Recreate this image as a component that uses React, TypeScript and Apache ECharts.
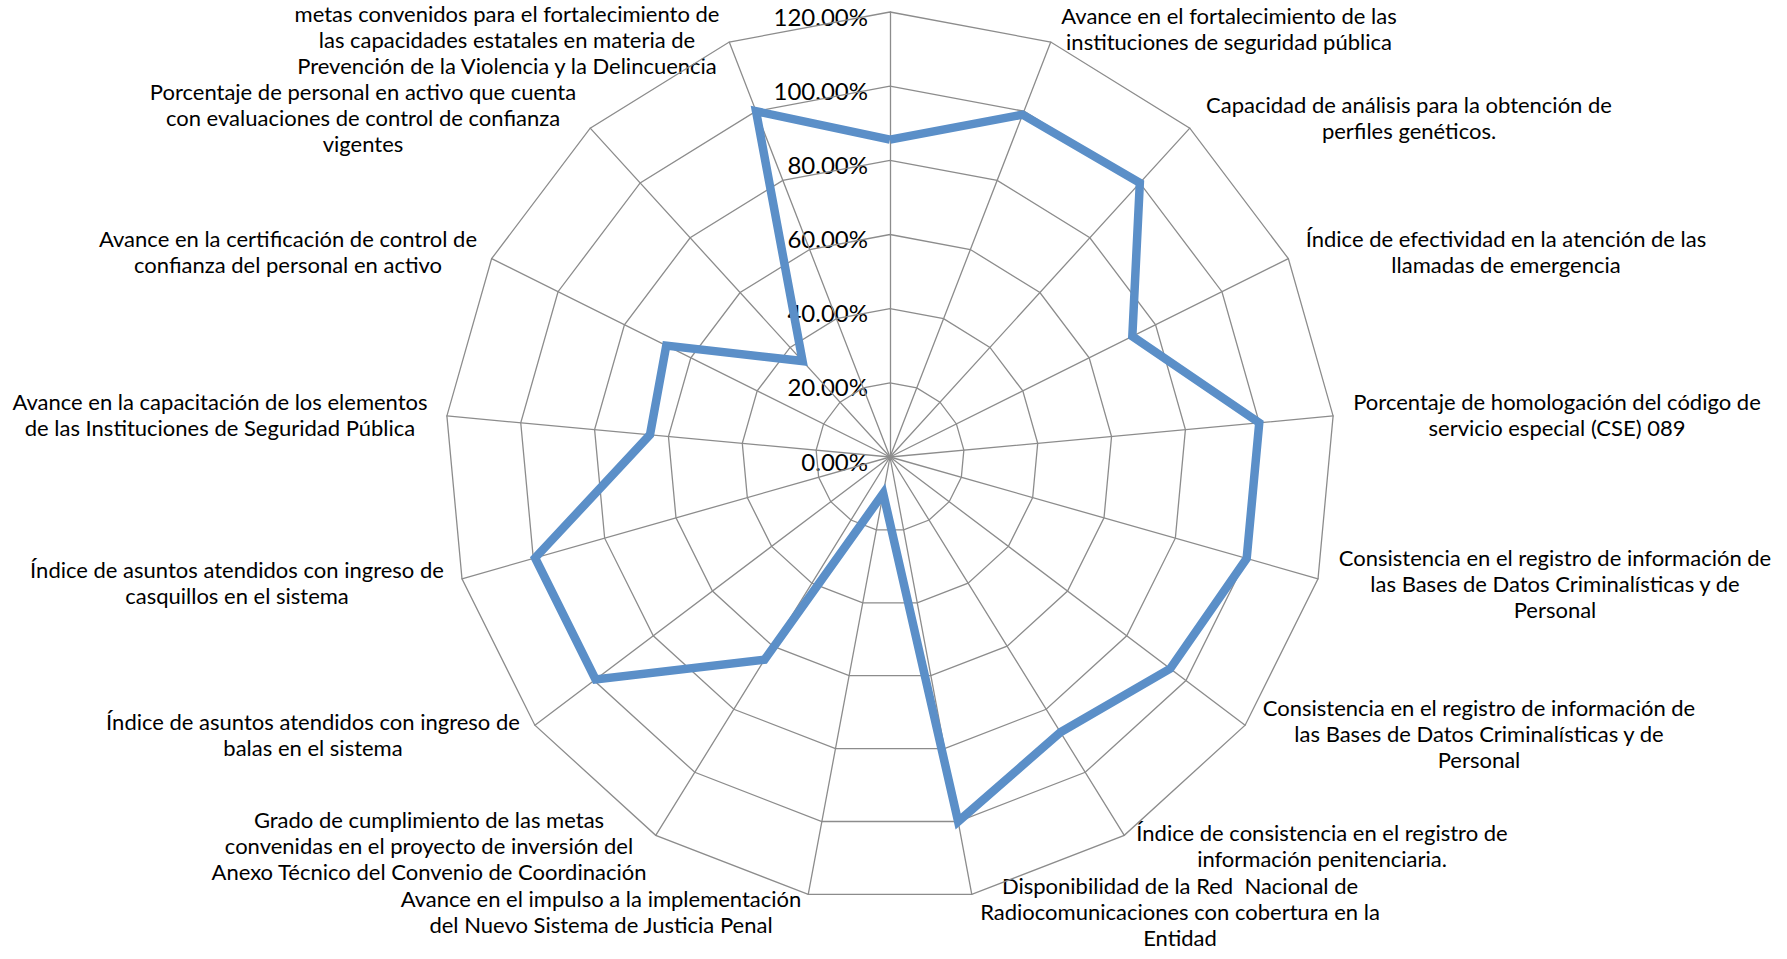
import React, { useEffect, useRef } from "react";
import * as echarts from "echarts";

// Categories listed clockwise, starting from the top spoke (its label is cut off in the reference)
const categories: string[] = [
  "",
  "Avance en el fortalecimiento de las\ninstituciones de seguridad pública",
  "Capacidad de análisis para la obtención de\nperfiles genéticos.",
  "Índice de efectividad en la atención de las\nllamadas de emergencia",
  "Porcentaje de homologación del código de\nservicio especial (CSE) 089",
  "Consistencia en el registro de información de\nlas Bases de Datos Criminalísticas y de\nPersonal",
  "Consistencia en el registro de información de\nlas Bases de Datos Criminalísticas y de\nPersonal",
  "Índice de consistencia en el registro de\ninformación penitenciaria.",
  "Disponibilidad de la Red  Nacional de\nRadiocomunicaciones con cobertura en la\nEntidad",
  "Avance en el impulso a la implementación\ndel Nuevo Sistema de Justicia Penal",
  "Grado de cumplimiento de las metas\nconvenidas en el proyecto de inversión del\nAnexo Técnico del Convenio de Coordinación",
  "Índice de asuntos atendidos con ingreso de\nbalas en el sistema",
  "Índice de asuntos atendidos con ingreso de\ncasquillos en el sistema",
  "Avance en la capacitación de los elementos\nde las Instituciones de Seguridad Pública",
  "Avance en la certificación de control de\nconfianza del personal en activo",
  "Porcentaje de personal en activo que cuenta\ncon evaluaciones de control de confianza\nvigentes",
  "metas convenidos para el fortalecimiento de\nlas capacidades estatales en materia de\nPrevención de la Violencia y la Delincuencia",
];

// Values (fractions) clockwise from the top spoke
const values: number[] = [
  0.856, 0.99, 1.0, 0.73, 1.0, 1.0, 0.947, 0.873, 1.0, 0.1, 0.643, 0.995, 0.995,
  0.65, 0.674, 0.35, 1.0,
];

const tickValues: number[] = [0, 0.2, 0.4, 0.6, 0.8, 1.0, 1.2];
const tickLabels: string[] = ["0.00%", "20.00%", "40.00%", "60.00%", "80.00%", "100.00%", "120.00%"];

const AXIS_MAX = 1.2;

export default function App() {
  const ref = useRef<HTMLDivElement>(null);

  useEffect(() => {
    document.body.style.margin = "0";
    if (!ref.current) return;
    const chart = echarts.init(ref.current, undefined, { renderer: "svg" });

    const cx = 890;
    const cy = 457;
    const radius = 445;
    const font = "Lato";
    const lineH = 26;

    // ECharts radar places indicators counter-clockwise; reorder so the picture runs clockwise
    const n = categories.length;
    const order = [0];
    for (let i = n - 1; i >= 1; i--) order.push(i);

    const indicator = order.map((i) => ({ name: categories[i], min: 0, max: AXIS_MAX }));
    const seriesData = order.map((i) => values[i]);

    // label anchors (center x, top y) for each category in clockwise order
    const labelPos: [number, number][] = [
      [890, -40],
      [1229, 2],
      [1409, 91],
      [1506, 225],
      [1557, 388],
      [1555, 544],
      [1479, 694],
      [1322, 819],
      [1180, 872],
      [601, 885],
      [429, 806],
      [313, 708],
      [237, 556],
      [220, 388],
      [288, 225],
      [363, 78],
      [507, 0],
    ];

    const graphics: any[] = [];
    categories.forEach((c, i) => {
      if (!c) return;
      graphics.push({
        type: "text",
        x: labelPos[i][0],
        y: labelPos[i][1],
        silent: true,
        style: {
          text: c,
          fill: "#000000",
          font: `22px ${font}`,
          lineHeight: lineH,
          textAlign: "center",
          textVerticalAlign: "top",
        },
      });
    });
    tickValues.forEach((v, i) => {
      graphics.push({
        type: "text",
        x: cx - 22,
        y: cy - (radius * v) / AXIS_MAX + 4,
        silent: true,
        style: {
          text: tickLabels[i],
          fill: "#000000",
          font: `24px ${font}`,
          textAlign: "right",
          textVerticalAlign: "middle",
        },
      });
    });

    chart.setOption({
      animation: false,
      backgroundColor: "#ffffff",
      radar: {
        center: [cx, cy],
        radius: radius,
        startAngle: 90,
        shape: "polygon",
        splitNumber: 6,
        indicator,
        axisName: { show: false },
        axisLine: { lineStyle: { color: "#8c8c8c", width: 1.3 } },
        splitLine: { lineStyle: { color: "#8c8c8c", width: 1.3 } },
        splitArea: { show: false },
        axisLabel: { show: false },
        axisTick: { show: false },
      },
      series: [
        {
          type: "radar",
          symbol: "none",
          lineStyle: { color: "#5B8FC8", width: 8.5, join: "miter" },
          data: [{ value: seriesData, name: "Serie" }],
        },
      ],
      graphic: graphics,
    });

    return () => chart.dispose();
  }, []);

  return <div ref={ref} style={{ width: 1787, height: 959 }} />;
}
